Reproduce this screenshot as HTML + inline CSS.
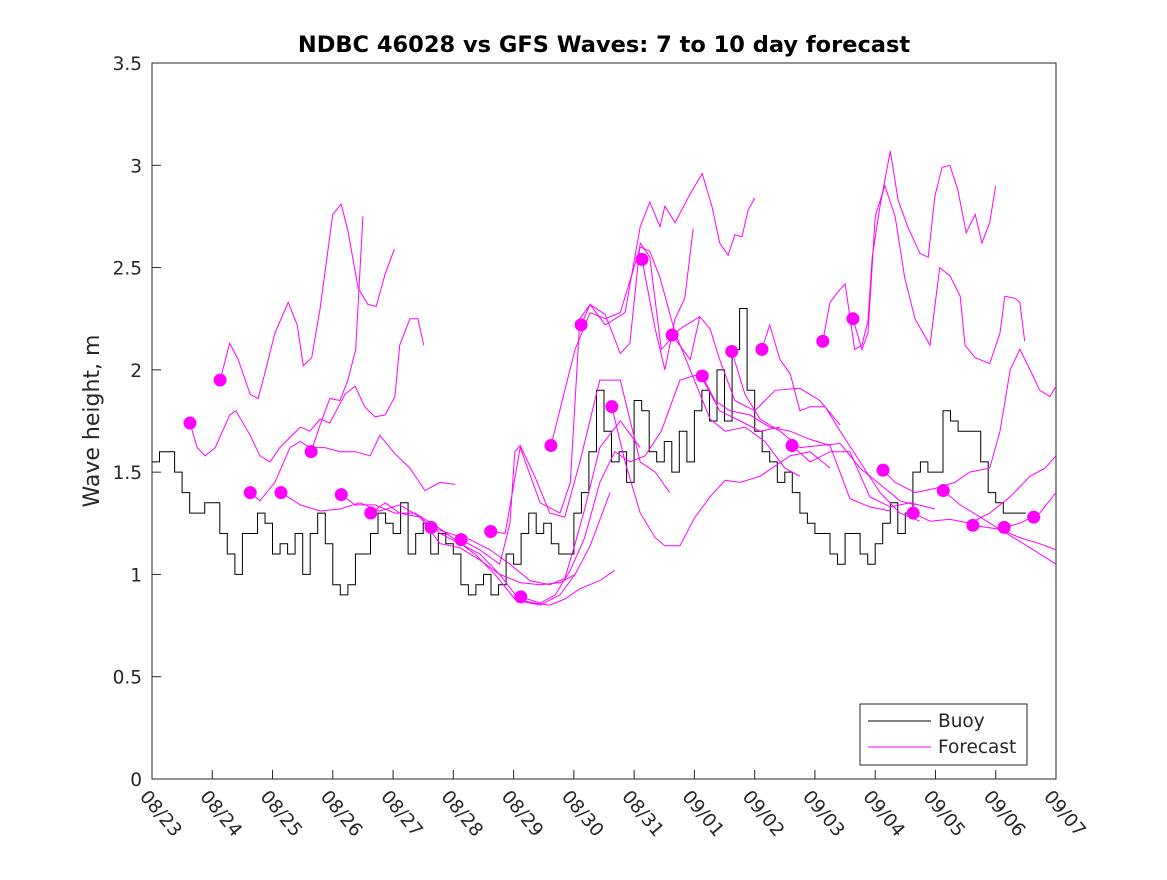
<!DOCTYPE html>
<html><head><meta charset="utf-8"><style>
body{margin:0;background:#fff;}
svg text{font-family:"DejaVu Sans","Liberation Sans",sans-serif;fill:#262626;}
</style></head><body>
<svg id="chart" width="1167" height="875" xmlns="http://www.w3.org/2000/svg">
<rect width="1167" height="875" fill="#fff"/>
<text x="604" y="52" text-anchor="middle" font-size="22.5" font-weight="bold" style="fill:#000">NDBC 46028 vs GFS Waves: 7 to 10 day forecast</text>
<text transform="translate(99,421) rotate(-90)" text-anchor="middle" font-size="22">Wave height, m</text>
<rect x="152" y="63" width="904" height="716" fill="#fff" stroke="#262626" stroke-width="1"/>
<g id="axes"></g>
<g id="series"></g>
<g>
<rect x="860" y="704" width="167" height="61" fill="#fff" stroke="#262626"/>
<line x1="868" y1="721" x2="931" y2="721" stroke="#000"/>
<text x="938" y="727" font-size="18.5">Buoy</text>
<line x1="868" y1="747" x2="931" y2="747" stroke="#f0f"/>
<text x="938" y="753" font-size="18.5">Forecast</text>
</g>
</svg>
<script>
const xLabels=["08/23","08/24","08/25","08/26","08/27","08/28","08/29","08/30","08/31","09/01","09/02","09/03","09/04","09/05","09/06","09/07"];
const yTicks=[0,0.5,1,1.5,2,2.5,3,3.5];
const yTickLabels=["0","0.5","1","1.5","2","2.5","3","3.5"];
const buoyStep=0.125;
const buoyVals=[1.55,1.6,1.6,1.5,1.4,1.3,1.3,1.35,
1.35,1.2,1.1,1.0,1.2,1.2,1.3,1.25,
1.1,1.15,1.1,1.2,1.0,1.2,1.3,1.15,
0.95,0.9,0.95,1.1,1.1,1.2,1.3,1.25,
1.2,1.35,1.1,1.2,1.25,1.1,1.2,1.15,
1.1,0.95,0.9,0.95,1.0,0.9,0.95,1.1,
1.05,1.2,1.3,1.2,1.25,1.15,1.1,1.1,
1.3,1.4,1.6,1.9,1.7,1.55,1.6,1.45,
1.85,1.8,1.6,1.55,1.65,1.5,1.7,1.55,
1.8,1.9,1.75,2.0,1.75,2.1,2.3,1.9,
1.7,1.6,1.55,1.45,1.5,1.4,1.3,1.25,
1.2,1.2,1.1,1.05,1.2,1.2,1.1,1.05,
1.15,1.25,1.35,1.2,1.3,1.5,1.55,1.5,
1.5,1.8,1.75,1.7,1.7,1.7,1.55,1.4,
1.35,1.3,1.3,1.3];
const dotDays=[0.63,1.13,1.63,2.14,2.64,3.14,3.63,4.63,5.13,5.62,6.12,6.62,7.12,7.63,8.13,8.63,9.13,9.62,10.12,10.62,11.13,11.63,12.13,12.63,13.13,13.62,14.14,14.63];
const dotVals=[1.74,1.95,1.40,1.40,1.60,1.39,1.30,1.23,1.17,1.21,0.89,1.63,2.22,1.82,2.54,2.17,1.97,2.09,2.10,1.63,2.14,2.25,1.51,1.30,1.41,1.24,1.23,1.28];
const fcDays=[
[0.63,0.75,0.88,1.05,1.29,1.39,1.63,1.79,1.96,2.12,2.46,2.62,2.79,2.95,3.20,3.37,3.53,3.70,3.87,4.03,4.11,4.28,4.41,4.51],
[1.13,1.29,1.43,1.63,1.76,1.87,2.04,2.26,2.41,2.51,2.65,2.79,3.00,3.14,3.25,3.42,3.58,3.72,3.87,4.02],
[1.63,1.79,2.04,2.29,2.46,2.62,2.87,3.12,3.37,3.62,3.78,4.03,4.28,4.53,4.78,5.03],
[2.14,2.46,2.79,3.12,3.45,3.78,4.11,4.45,4.78,5.11,5.44,5.77,6.11,6.44,6.77,7.02],
[2.64,2.79,2.95,3.12,3.25,3.38,3.50],
[3.14,3.37,3.70,4.03,4.36,4.70,5.03,5.36,5.69,6.02,6.35,6.60,6.85,7.10,7.43,7.68],
[3.63,3.87,4.11,4.45,4.78,5.11,5.44,5.77,6.11,6.44,6.77,7.02,7.27,7.60],
[4.63,4.94,5.28,5.61,5.94,6.27,6.60,6.85,7.02,7.18,7.43,7.77,8.10],
[5.13,5.44,5.77,5.94,6.02,6.11,6.35,6.60,6.85,7.10,7.43,7.77,8.10,8.35,8.59],
[5.62,5.86,6.11,6.44,6.77,6.94,7.10,7.27,7.52,7.77,7.93,8.10,8.26,8.45,8.76,9.09],
[6.12,6.44,6.69,6.94,7.18,7.43,7.68,7.93,8.18,8.45,8.76,9.09,9.42,9.76,10.09,10.42],
[6.62,6.85,7.02,7.27,7.52,7.77,8.10,8.26,8.43,8.68,8.93,9.26,9.51,9.84,10.17,10.50,10.75],
[7.12,7.27,7.52,7.85,8.10,8.26,8.43,8.51,8.68,8.93,9.13,9.29,9.42,9.56,9.67,9.79,9.89,10.0],
[7.63,7.85,8.10,8.35,8.51,8.76,9.01,9.26,9.51,9.76,10.09,10.59,10.92,11.25],
[8.13,8.35,8.51,8.68,8.84,8.98],
[8.63,8.93,9.09,9.26,9.42,9.67,10.0,10.34,10.75,11.08,11.42],
[9.13,9.34,9.59,9.92,10.25,10.59,10.92,11.25,11.58,11.91,12.25],
[9.62,9.84,10.09,10.42,10.75,11.08,11.42,11.75,12.08,12.41,12.66],
[10.12,10.25,10.42,10.59,10.75,10.92,11.17,11.42,11.75,12.08,12.41,12.74],
[10.62,10.92,11.25,11.58,11.91,12.25,12.58,12.99],
[11.13,11.25,11.38,11.50,11.66,11.78,11.88,11.95,12.08,12.25,12.38,12.54,12.74,12.88,12.99,13.11,13.24,13.37,13.51,13.66,13.77,13.90,14.00],
[11.63,11.78,11.88,12.00,12.16,12.33,12.49,12.66,12.91,13.07,13.24,13.41,13.49,13.66,13.90,14.07,14.15,14.32,14.40,14.48],
[12.13,12.33,12.66,12.99,13.32,13.57,13.90,14.07,14.24,14.40,14.57,14.73,14.90,15.0],
[12.63,12.91,13.24,13.57,13.90,14.24,14.57,14.82,15.0],
[13.13,13.41,13.74,14.07,14.40,14.73,15.0],
[13.62,14.07,14.57,15.0],
[14.14,14.40,14.73,15.0]];
const fcVals=[
[1.74,1.62,1.58,1.62,1.78,1.80,1.68,1.58,1.55,1.62,1.72,1.70,1.76,1.74,1.88,1.92,1.82,1.77,1.78,1.87,2.12,2.25,2.25,2.12],
[1.95,2.13,2.05,1.88,1.86,1.98,2.18,2.33,2.22,2.02,2.06,2.30,2.76,2.81,2.68,2.40,2.32,2.31,2.47,2.59],
[1.40,1.36,1.45,1.62,1.65,1.62,1.62,1.60,1.60,1.58,1.68,1.59,1.52,1.41,1.45,1.44],
[1.40,1.34,1.31,1.32,1.35,1.31,1.34,1.28,1.15,1.13,1.07,1.00,0.96,0.95,0.96,1.00],
[1.60,1.73,1.86,1.85,1.95,2.10,2.75],
[1.39,1.34,1.34,1.30,1.30,1.24,1.17,1.10,1.00,0.88,0.86,0.85,0.88,0.93,0.97,1.02],
[1.30,1.35,1.30,1.28,1.20,1.15,1.10,1.00,0.87,0.85,0.90,1.00,1.14,1.40],
[1.23,1.20,1.17,1.12,1.05,0.97,0.95,0.98,1.15,1.32,1.62,1.75,1.62],
[1.17,1.12,1.05,1.25,1.60,1.63,1.48,1.30,1.28,1.55,1.95,1.95,1.55,1.50,1.40],
[1.21,1.20,1.62,1.35,1.30,1.45,2.25,2.32,2.27,2.08,2.13,2.62,2.55,2.10,2.20,2.26],
[0.89,0.86,0.90,1.02,1.18,1.45,1.60,1.55,1.58,1.70,1.95,1.98,1.80,1.75,1.70,1.72],
[1.63,1.90,2.10,2.28,2.25,2.28,2.60,2.58,2.45,2.18,2.00,1.76,1.70,1.72,1.65,1.52,1.48],
[2.22,2.32,2.22,2.28,2.70,2.82,2.70,2.80,2.72,2.86,2.96,2.80,2.62,2.56,2.66,2.65,2.78,2.84],
[1.82,1.55,1.30,1.18,1.14,1.14,1.28,1.38,1.46,1.45,1.48,1.58,1.60,1.52],
[2.54,2.20,2.00,2.25,2.35,2.69],
[2.17,2.05,2.26,2.20,2.05,1.85,1.80,1.90,1.91,1.85,1.73],
[1.97,1.85,1.80,1.78,1.72,1.70,1.66,1.63,1.37,1.33,1.31],
[2.09,1.88,1.76,1.70,1.62,1.63,1.64,1.52,1.44,1.36,1.34],
[2.10,2.22,2.05,1.98,1.80,1.82,1.82,1.70,1.55,1.40,1.30,1.26],
[1.63,1.55,1.60,1.60,1.38,1.33,1.35,1.32],
[2.14,2.33,2.38,2.42,2.10,2.12,2.24,2.55,2.80,3.07,2.83,2.70,2.57,2.55,2.85,2.99,3.00,2.88,2.67,2.76,2.62,2.72,2.90],
[2.25,2.10,2.18,2.75,2.90,2.75,2.45,2.25,2.12,2.50,2.46,2.36,2.12,2.06,2.03,2.18,2.36,2.35,2.33,2.14],
[1.51,1.45,1.40,1.42,1.45,1.50,1.52,1.70,2.00,2.10,2.00,1.90,1.87,1.92],
[1.30,1.26,1.27,1.25,1.30,1.38,1.48,1.52,1.58],
[1.41,1.34,1.28,1.22,1.18,1.15,1.12],
[1.24,1.22,1.13,1.05],
[1.23,1.25,1.30,1.40]];

const X0=152,X1=1056,Y0=779,Y1=63,DAYS=15,YMAX=3.5;
function xs(d){return X0+(X1-X0)*d/DAYS;}
function ys(v){return Y0-(Y0-Y1)*v/YMAX;}
const NS="http://www.w3.org/2000/svg";
function mk(tag,attrs,parent){const e=document.createElementNS(NS,tag);for(const k in attrs)e.setAttribute(k,attrs[k]);parent.appendChild(e);return e;}
const axes=document.getElementById('axes'),series=document.getElementById('series');
yTicks.forEach((v,i)=>{
  const y=ys(v);
  const t=mk('line',{x1:X0,y1:y,x2:X0+9,y2:y,stroke:'#262626'},axes);
  
  
  const l=mk('text',{x:X0-10,y:y+7,'text-anchor':'end','font-size':18.5},axes);
  l.textContent=yTickLabels[i];
  
  
});
xLabels.forEach((s,i)=>{
  const x=xs(i);
  const t=mk('line',{x1:x,y1:Y0,x2:x,y2:Y0-9,stroke:'#262626'},axes);
  
  
  const l=mk('text',{transform:`translate(${x-13},${Y0+18}) rotate(50)`,'font-size':18.5},axes);
  l.textContent=s;
  
  
});
let bp='';
buoyVals.forEach((v,i)=>{const x=xs(i*buoyStep),y=ys(v);bp+=(i?`H${x.toFixed(1)}V${y.toFixed(1)}`:`M${x.toFixed(1)},${y.toFixed(1)}`);});
bp+=`H${xs(buoyVals.length*buoyStep).toFixed(1)}`;
const buoy=mk('path',{d:bp,fill:'none',stroke:'#000','stroke-width':1},series);


fcDays.forEach((ds,k)=>{
  const pts=ds.map((d,i)=>xs(d).toFixed(1)+','+ys(fcVals[k][i]).toFixed(1)).join(' ');
  const p=mk('polyline',{points:pts,fill:'none',stroke:'#f0f','stroke-width':1},series);
  
  
});
dotDays.forEach((d,i)=>{
  const c=mk('circle',{cx:xs(d),cy:ys(dotVals[i]),r:6.5,fill:'#f0f'},series);
  
  
});
</script>
</body></html>
